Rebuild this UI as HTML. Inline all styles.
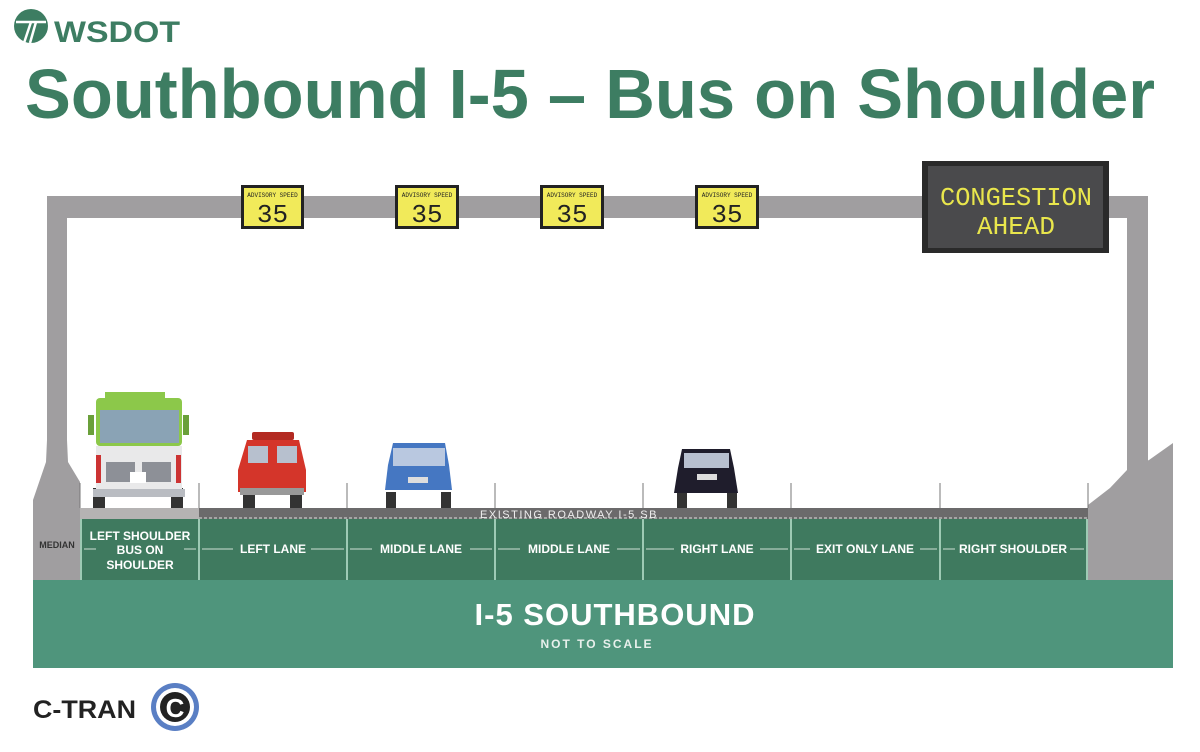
<!DOCTYPE html>
<html><head><meta charset="utf-8"><style>
html,body{margin:0;padding:0;background:#fff;width:1200px;height:752px;overflow:hidden}
svg{display:block}
text{font-family:"Liberation Sans",sans-serif}
text.mono{font-family:"Liberation Mono",monospace}
</style></head><body>
<svg width="1200" height="752" viewBox="0 0 1200 752" xmlns="http://www.w3.org/2000/svg">
<!-- WSDOT logo -->
<circle cx="31" cy="26" r="17" fill="#3d7d62"/>
<path d="M16 22 H46" stroke="#fff" stroke-width="2.5"/>
<path d="M31 22 L24 43 M36 22 L30 43" stroke="#fff" stroke-width="2.5"/>
<text x="54" y="42" font-size="30" font-weight="bold" fill="#3d7d62" textLength="126" lengthAdjust="spacingAndGlyphs">WSDOT</text>
<!-- Title -->
<text x="25" y="118" font-size="70" font-weight="bold" fill="#3d7d62" textLength="1130" lengthAdjust="spacingAndGlyphs">Southbound I-5 – Bus on Shoulder</text>

<!-- gantry -->
<rect x="47" y="196" width="1101" height="22" fill="#a09ea0"/>
<rect x="47" y="196" width="20" height="260" fill="#a09ea0"/>
<path d="M47 440 L67 440 L68 462 L80 482 L80 580 L33 580 L33 500 L46 462 Z" fill="#a09ea0"/>
<rect x="1127" y="196" width="21" height="275" fill="#a09ea0"/>
<path d="M1088 505 L1110 488 L1127 470 L1149 460 L1173 443 L1173 580 L1088 580 Z" fill="#a09ea0"/>

<!-- advisory signs -->
<g>
<g transform="translate(241,185)"><rect width="63" height="44" fill="#222"/><rect x="3" y="3" width="57" height="38" fill="#f1ea5a"/><text class="mono" x="31.5" y="12" font-size="6" text-anchor="middle" fill="#222">ADVISORY SPEED</text><text class="mono" x="31.5" y="37" font-size="26" text-anchor="middle" fill="#222">35</text></g>
<g transform="translate(395,185)"><rect width="64" height="44" fill="#222"/><rect x="3" y="3" width="58" height="38" fill="#f1ea5a"/><text class="mono" x="32" y="12" font-size="6" text-anchor="middle" fill="#222">ADVISORY SPEED</text><text class="mono" x="32" y="37" font-size="26" text-anchor="middle" fill="#222">35</text></g>
<g transform="translate(540,185)"><rect width="64" height="44" fill="#222"/><rect x="3" y="3" width="58" height="38" fill="#f1ea5a"/><text class="mono" x="32" y="12" font-size="6" text-anchor="middle" fill="#222">ADVISORY SPEED</text><text class="mono" x="32" y="37" font-size="26" text-anchor="middle" fill="#222">35</text></g>
<g transform="translate(695,185)"><rect width="64" height="44" fill="#222"/><rect x="3" y="3" width="58" height="38" fill="#f1ea5a"/><text class="mono" x="32" y="12" font-size="6" text-anchor="middle" fill="#222">ADVISORY SPEED</text><text class="mono" x="32" y="37" font-size="26" text-anchor="middle" fill="#222">35</text></g>
<!-- congestion -->
<rect x="922" y="161" width="187" height="92" fill="#2a2a2a"/>
<rect x="928" y="166" width="175" height="82" fill="#4a4a4c"/>
<text class="mono" x="1016" y="205" font-size="26" text-anchor="middle" fill="#e9e64c" textLength="152" lengthAdjust="spacingAndGlyphs">CONGESTION</text>
<text class="mono" x="1016" y="234" font-size="26" text-anchor="middle" fill="#e9e64c">AHEAD</text>
</g>

<!-- ticks -->
<g stroke="#777" stroke-width="1">
<line x1="80" y1="483" x2="80" y2="508"/><line x1="199" y1="483" x2="199" y2="508"/><line x1="347" y1="483" x2="347" y2="508"/><line x1="495" y1="483" x2="495" y2="508"/><line x1="643" y1="483" x2="643" y2="508"/><line x1="791" y1="483" x2="791" y2="508"/><line x1="940" y1="483" x2="940" y2="508"/><line x1="1088" y1="483" x2="1088" y2="508"/>
</g>
<!-- road surface -->
<rect x="80" y="508" width="119" height="11" fill="#b5b3b3"/>
<rect x="199" y="508" width="889" height="11" fill="#6b6a6b"/>
<line x1="199" y1="518" x2="1088" y2="518" stroke="#ddd" stroke-width="1" stroke-dasharray="3 2"/>
<text x="569" y="518" font-size="11" fill="#eee" text-anchor="middle" letter-spacing="1.5">EXISTING ROADWAY I-5 SB</text>

<!-- lane band -->
<rect x="80" y="519" width="1008" height="61" fill="#3f7a5f"/>
<g stroke="#dfe" stroke-width="1.2">
<line x1="81" y1="519" x2="81" y2="580"/><line x1="199" y1="519" x2="199" y2="580"/><line x1="347" y1="519" x2="347" y2="580"/><line x1="495" y1="519" x2="495" y2="580"/><line x1="643" y1="519" x2="643" y2="580"/><line x1="791" y1="519" x2="791" y2="580"/><line x1="940" y1="519" x2="940" y2="580"/><line x1="1087" y1="519" x2="1087" y2="580"/>
</g>
<g stroke="#cfe0d6" stroke-width="1" fill="none">
<line x1="84" y1="549" x2="96" y2="549"/><line x1="184" y1="549" x2="196" y2="549"/>
<line x1="202" y1="549" x2="233" y2="549"/><line x1="311" y1="549" x2="344" y2="549"/>
<line x1="350" y1="549" x2="372" y2="549"/><line x1="470" y1="549" x2="492" y2="549"/>
<line x1="498" y1="549" x2="520" y2="549"/><line x1="617" y1="549" x2="640" y2="549"/>
<line x1="646" y1="549" x2="674" y2="549"/><line x1="760" y1="549" x2="788" y2="549"/>
<line x1="794" y1="549" x2="810" y2="549"/><line x1="920" y1="549" x2="937" y2="549"/>
<line x1="943" y1="549" x2="955" y2="549"/><line x1="1070" y1="549" x2="1084" y2="549"/>
</g>
<g fill="#fff" font-size="12" font-weight="bold" text-anchor="middle">
<text x="140" y="540">LEFT SHOULDER</text><text x="140" y="554">BUS ON</text><text x="140" y="569">SHOULDER</text>
<text x="273" y="553">LEFT LANE</text>
<text x="421" y="553">MIDDLE LANE</text>
<text x="569" y="553">MIDDLE LANE</text>
<text x="717" y="553">RIGHT LANE</text>
<text x="865" y="553">EXIT ONLY LANE</text>
<text x="1013" y="553">RIGHT SHOULDER</text>
</g>
<text x="57" y="548" font-size="9" font-weight="bold" fill="#333" text-anchor="middle">MEDIAN</text>

<!-- bottom band -->
<rect x="33" y="580" width="1140" height="88" fill="#4f957c"/>
<text x="615" y="625" font-size="31" font-weight="bold" fill="#fff" text-anchor="middle" letter-spacing="1">I-5 SOUTHBOUND</text>
<text x="597" y="648" font-size="12" font-weight="bold" fill="#e8f0ec" text-anchor="middle" letter-spacing="2">NOT TO SCALE</text>

<!-- bus -->
<rect x="93" y="488" width="12" height="20" fill="#333"/><rect x="171" y="488" width="12" height="20" fill="#333"/>
<rect x="105" y="392" width="60" height="8" fill="#8cc84a"/>
<rect x="96" y="398" width="86" height="48" rx="4" fill="#8cc84a"/>
<rect x="88" y="415" width="6" height="20" fill="#6aa03a"/><rect x="183" y="415" width="6" height="20" fill="#6aa03a"/>
<rect x="100" y="410" width="79" height="33" fill="#8aa3b5"/>
<rect x="96" y="446" width="86" height="44" fill="#e9e9ea"/>
<rect x="106" y="462" width="29" height="20" fill="#8d9097"/><rect x="142" y="462" width="29" height="20" fill="#8d9097"/>
<rect x="130" y="472" width="16" height="11" fill="#fff"/>
<rect x="96" y="455" width="5" height="28" fill="#c33"/><rect x="176" y="455" width="5" height="28" fill="#c33"/>
<rect x="93" y="489" width="92" height="8" fill="#b9bcc2"/>
<!-- red van -->
<rect x="243" y="490" width="12" height="18" fill="#333"/><rect x="290" y="490" width="12" height="18" fill="#333"/>
<rect x="252" y="432" width="42" height="8" rx="2" fill="#b32a22"/>
<path d="M247 440 H299 L306 470 V492 H238 V470 Z" fill="#d4352a"/>
<rect x="248" y="446" width="20" height="17" fill="#b7c0ce"/><rect x="277" y="446" width="20" height="17" fill="#b7c0ce"/>
<rect x="240" y="488" width="64" height="7" fill="#999"/>
<!-- blue car -->
<rect x="386" y="492" width="10" height="16" fill="#333"/><rect x="441" y="492" width="10" height="16" fill="#333"/>
<path d="M393 443 H445 L449 465 L452 490 H385 L388 465 Z" fill="#4577c2"/>
<rect x="393" y="448" width="52" height="18" fill="#b9c8e0"/>
<rect x="408" y="477" width="20" height="6" fill="#ddd"/>
<!-- black car -->
<rect x="677" y="492" width="10" height="16" fill="#333"/><rect x="727" y="492" width="10" height="16" fill="#333"/>
<path d="M682 449 H730 L734 468 L738 493 H674 L678 468 Z" fill="#1f1d2c"/>
<rect x="684" y="453" width="45" height="15" fill="#b8c0d0"/>
<rect x="697" y="474" width="20" height="6" fill="#ddd"/>

<!-- C-TRAN -->
<text x="33" y="718" font-size="25" font-weight="bold" fill="#222" textLength="103" lengthAdjust="spacingAndGlyphs">C-TRAN</text>
<circle cx="175" cy="707" r="24" fill="#5a7fc4"/>
<circle cx="175" cy="707" r="19" fill="#fff"/>
<circle cx="175" cy="707" r="15" fill="#222"/>
<text x="175" y="717" font-size="26" font-weight="bold" fill="#fff" text-anchor="middle">C</text>
</svg>
</body></html>
